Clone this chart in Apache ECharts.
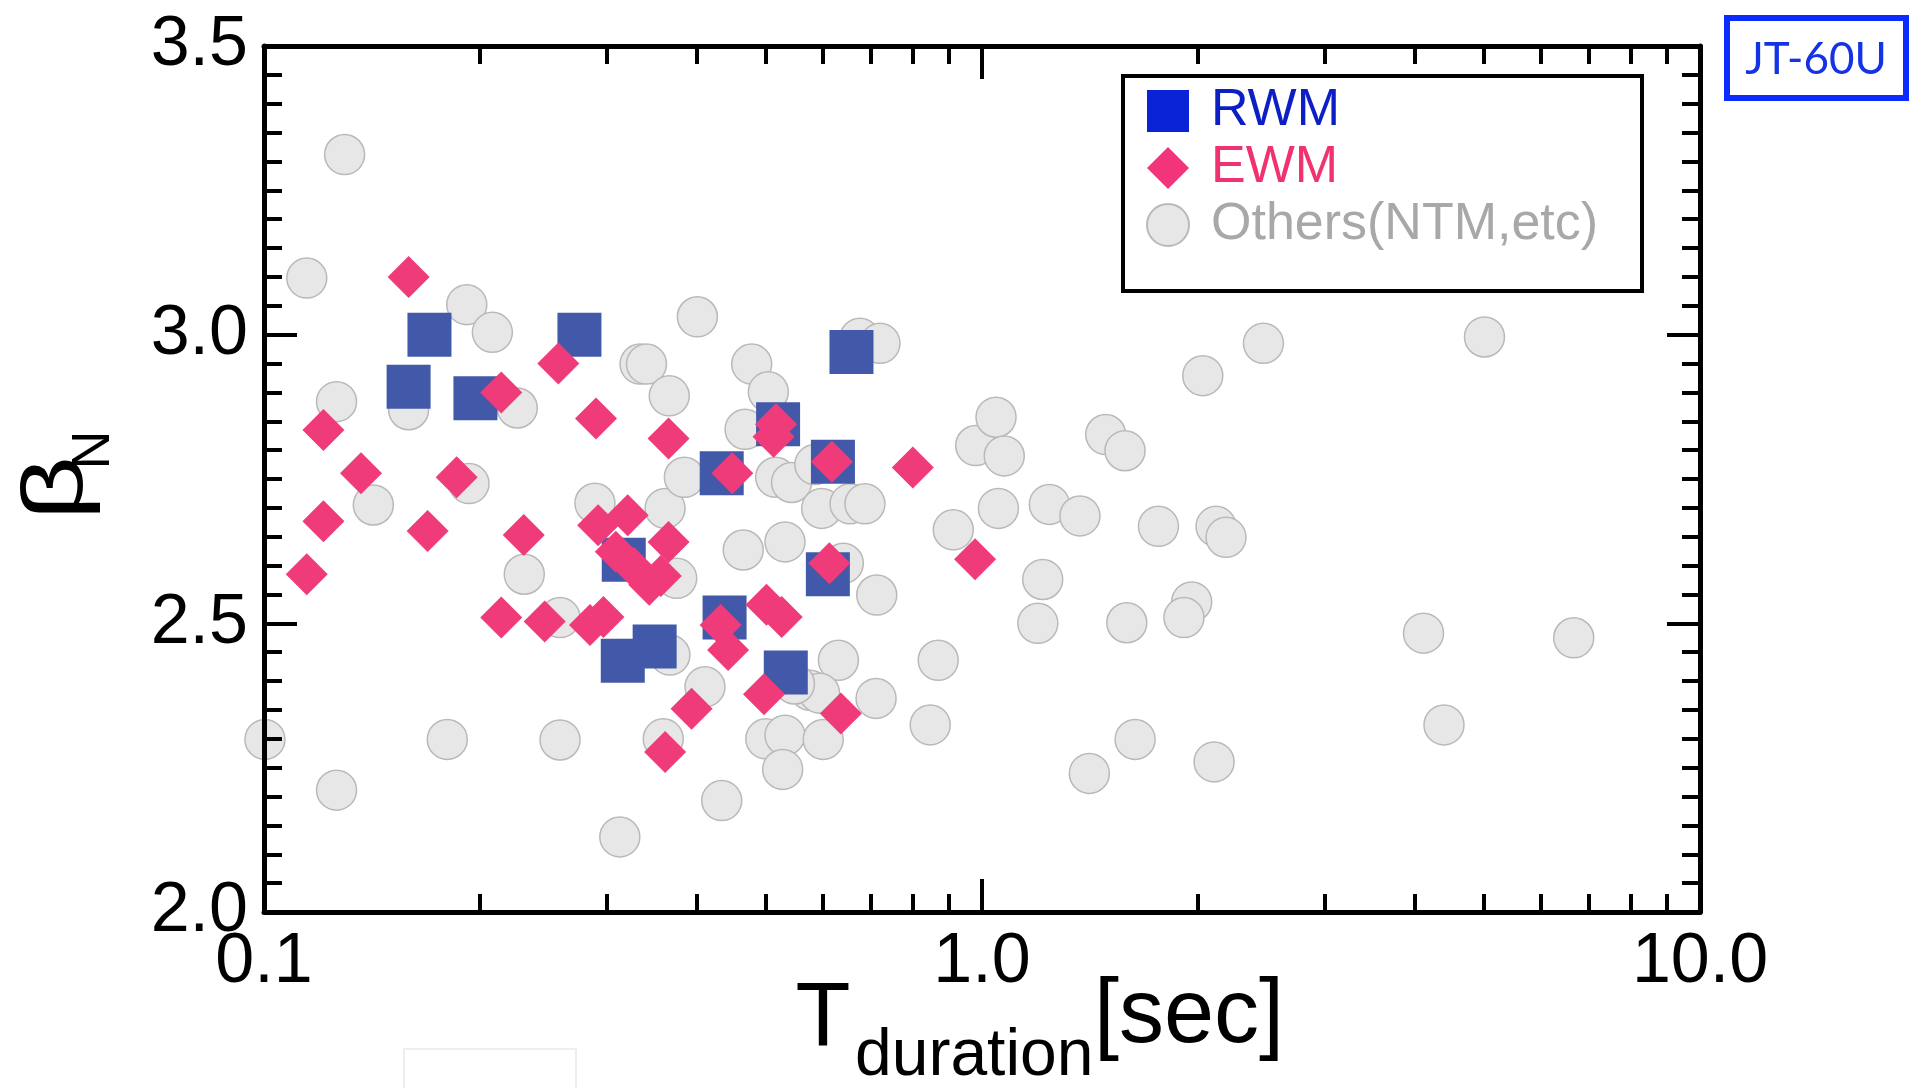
<!DOCTYPE html>
<html>
<head>
<meta charset="utf-8">
<script src="https://cdn.jsdelivr.net/npm/echarts@6/dist/echarts.min.js"></script>
<style>
html,body{margin:0;padding:0;background:#ffffff;}
#chart{width:1916px;height:1088px;}
</style>
</head>
<body>
<div id="chart"></div>
<script>
// ---- data: [T_duration (sec), beta_N] ----
const rwmPoints = [
  [0.170, 3.00], [0.275, 3.00], [0.159, 2.91], [0.197, 2.89], [0.658, 2.97],
  [0.520, 2.845], [0.434, 2.76], [0.620, 2.78], [0.317, 2.61], [0.610, 2.585],
  [0.438, 2.51], [0.350, 2.46], [0.316, 2.435], [0.533, 2.415]
];
const ewmPoints = [
  [0.159, 3.10], [0.257, 2.95], [0.214, 2.90], [0.290, 2.855], [0.121, 2.835],
  [0.1365, 2.76], [0.1855, 2.753], [0.121, 2.677], [0.169, 2.66], [0.230, 2.653],
  [0.1147, 2.585], [0.366, 2.82], [0.5165, 2.845], [0.5125, 2.823], [0.449, 2.76],
  [0.618, 2.78], [0.801, 2.77], [0.366, 2.641], [0.978, 2.611], [0.292, 2.67],
  [0.321, 2.687], [0.309, 2.624], [0.3275, 2.596], [0.344, 2.567], [0.357, 2.582],
  [0.214, 2.51], [0.246, 2.503], [0.2845, 2.497], [0.297, 2.511], [0.4325, 2.497],
  [0.443, 2.454], [0.501, 2.532], [0.526, 2.511], [0.613, 2.604], [0.497, 2.377],
  [0.636, 2.344], [0.394, 2.352], [0.362, 2.277]
];
const otherPoints = [
  [0.1295, 3.312], [0.1147, 3.098], [0.1916, 3.052], [0.208, 3.004], [0.4014, 3.031],
  [0.1262, 2.884], [0.159, 2.870], [0.2253, 2.873], [0.334, 2.949], [0.341, 2.949],
  [0.3668, 2.894], [0.4778, 2.949], [0.504, 2.901], [0.676, 2.994], [0.721, 2.985],
  [0.4677, 2.836], [0.142, 2.705], [0.193, 2.742], [0.289, 2.708], [0.3619, 2.699],
  [0.385, 2.753], [0.516, 2.753], [0.543, 2.744], [0.598, 2.699], [0.655, 2.707],
  [0.687, 2.707], [0.465, 2.627], [0.5316, 2.641], [0.641, 2.604], [0.3757, 2.578],
  [0.2304, 2.585], [0.2584, 2.51], [0.3676, 2.445], [0.7135, 2.549], [0.631, 2.436],
  [0.576, 2.384], [0.594, 2.379], [0.712, 2.370], [0.4113, 2.39], [0.3598, 2.30],
  [0.4999, 2.30], [0.5316, 2.306], [0.601, 2.299], [0.5277, 2.247], [0.434, 2.193],
  [0.313, 2.130], [0.1003, 2.299], [0.18, 2.299], [0.2584, 2.298], [0.1262, 2.211],
  [0.869, 2.436], [0.847, 2.324], [0.912, 2.662], [0.98, 2.808], [1.046, 2.857],
  [1.074, 2.79], [1.054, 2.699], [1.241, 2.706], [1.369, 2.686], [1.487, 2.827],
  [1.582, 2.799], [1.761, 2.668], [2.118, 2.668], [2.187, 2.649], [1.215, 2.576],
  [1.196, 2.50], [1.591, 2.501], [1.959, 2.537], [1.911, 2.51], [1.634, 2.299],
  [1.411, 2.24], [2.105, 2.26], [2.03, 2.929], [2.466, 2.985], [4.12, 2.483],
  [4.40, 2.324], [5.01, 2.996], [6.67, 2.475], [0.585, 2.775], [0.548, 2.395]
];
// ---- axis ticks ----
const yMin = 2.0, yMax = 3.5, yStep = 0.5;
const xMin = 0.1, xMax = 10.0;
const xMinorTicks = [0.2, 0.3, 0.4, 0.5, 0.6, 0.7, 0.8, 0.9, 2, 3, 4, 5, 6, 7, 8, 9];
const seriesNames = ['RWM', 'EWM', 'Others(NTM,etc)'];

const FONT = '"Liberation Sans", Arial, Helvetica, sans-serif';
const chart = echarts.init(document.getElementById('chart'), null, {renderer: 'canvas'});

const lineStyle = {color: '#000', width: 5};
const majorTick = {show: true, inside: true, length: 33, lineStyle: {color: '#000', width: 4}};
const minorTickX = {show: true, inside: true, length: 18, lineStyle: {color: '#000', width: 4},
                    customValues: xMinorTicks.map(v => Math.log10(v))};

function logX(position, showLabel) {
  return {
    type: 'log', logBase: 10, min: xMin, max: xMax, position: position, z: 10,
    axisLine: {show: true, onZero: false, lineStyle: lineStyle},
    axisTick: majorTick,
    axisLabel: {show: showLabel, margin: 16, fontSize: 70, color: '#000', fontFamily: FONT,
                formatter: v => Number(v).toFixed(1)},
    splitLine: {show: false}, minorTick: {show: false}
  };
}
function minorX(position) {
  return {
    type: 'value', min: Math.log10(xMin), max: Math.log10(xMax), position: position, z: 10,
    axisLine: {show: false, onZero: false}, axisTick: minorTickX, axisLabel: {show: false},
    splitLine: {show: false}
  };
}
function valY(position, showLabel) {
  return {
    type: 'value', min: yMin, max: yMax, interval: yStep, position: position, z: 10,
    axisLine: {show: true, onZero: false, lineStyle: lineStyle},
    axisTick: majorTick,
    minorTick: {show: true, splitNumber: 10, length: 18, lineStyle: {color: '#000', width: 4}},
    axisLabel: {show: showLabel, margin: 16, fontSize: 70, color: '#000', fontFamily: FONT,
                padding: [0, 0, 16, 0], formatter: v => Number(v).toFixed(1)},
    splitLine: {show: false}, minorSplitLine: {show: false}
  };
}

const option = {
  backgroundColor: '#ffffff',
  animation: false,
  grid: {left: 264, right: 216, top: 46, bottom: 176, containLabel: false, outerBoundsMode: 'none'},
  xAxis: [logX('bottom', true), logX('top', false), minorX('bottom'), minorX('top')],
  yAxis: [valY('left', true), valY('right', false)],
  legend: {
    orient: 'vertical', left: 1141, top: 80, itemWidth: 42, itemHeight: 42, itemGap: 5,
    selectedMode: false,
    textStyle: {fontSize: 52, fontFamily: FONT, padding: [0, 0, 0, 17]},
    data: [
      {name: seriesNames[0], icon: 'rect', itemStyle: {color: '#0b23d6'}, textStyle: {color: '#0c1ec4'}},
      {name: seriesNames[1], icon: 'diamond', itemStyle: {color: '#f2347a'}, textStyle: {color: '#f0336f'}},
      {name: seriesNames[2], icon: 'circle', textStyle: {color: '#a8a8a8'}}
    ]
  },
  series: [
    {name: seriesNames[2], type: 'scatter', xAxisIndex: 0, yAxisIndex: 0, data: otherPoints,
     symbol: 'circle', symbolSize: 40, clip: false, z: 2,
     itemStyle: {color: '#e7e7e7', borderColor: '#b9b9b9', borderWidth: 1.5, opacity: 1}},
    {name: seriesNames[0], type: 'scatter', xAxisIndex: 0, yAxisIndex: 0, data: rwmPoints,
     symbol: 'rect', symbolSize: 44, clip: false, z: 3,
     itemStyle: {color: '#4259a9', opacity: 1}},
    {name: seriesNames[1], type: 'scatter', xAxisIndex: 0, yAxisIndex: 0, data: ewmPoints,
     symbol: 'diamond', symbolSize: 42, clip: false, z: 4,
     itemStyle: {color: '#f03b7b', opacity: 1}}
  ],
  graphic: [
    {type: 'rect', z: 20, shape: {x: 1123, y: 76, width: 519, height: 215},
     style: {fill: 'rgba(0,0,0,0)', stroke: '#000', lineWidth: 4}},
    {type: 'rect', z: 20, shape: {x: 1727, y: 18, width: 179, height: 80},
     style: {fill: '#fff', stroke: '#0a2cff', lineWidth: 6}},
    {type: 'text', z: 21, x: 1816, y: 60,
     style: {text: 'JT-60U', fontSize: 44, fontFamily: 'Lato, "Open Sans", sans-serif', fill: '#1432e6',
             align: 'center', verticalAlign: 'middle'}},
    // x-axis title: T_duration[sec]
    {type: 'text', z: 21, x: 823, y: 1021,
     style: {text: 'T', fontSize: 90, fontFamily: FONT, fill: '#000', align: 'center', verticalAlign: 'middle'}},
    {type: 'text', z: 21, x: 855, y: 1057,
     style: {text: 'duration', fontSize: 66, fontFamily: FONT, fill: '#000', align: 'left', verticalAlign: 'middle'}},
    {type: 'text', z: 21, x: 1094, y: 1017,
     style: {text: '[sec]', fontSize: 90, fontFamily: FONT, fill: '#000', align: 'left', verticalAlign: 'middle'}},
    // y-axis title: beta_N (rotated)
    {type: 'text', z: 21, x: 58, y: 488, rotation: Math.PI / 2, scaleX: 1.3,
     style: {text: 'β', fontSize: 86, fontFamily: FONT, fill: '#000', align: 'center', verticalAlign: 'middle'}},
    {type: 'text', z: 21, x: 94, y: 450, rotation: Math.PI / 2,
     style: {text: 'N', fontSize: 54, fontFamily: FONT, fill: '#000', align: 'center', verticalAlign: 'middle'}},
    // faint box fragment at the bottom of the reference image
    {type: 'rect', z: 1, shape: {x: 404, y: 1049, width: 172, height: 60},
     style: {fill: 'rgba(0,0,0,0)', stroke: '#eeeeee', lineWidth: 2}}
  ]
};
chart.setOption(option);
</script>
</body>
</html>
